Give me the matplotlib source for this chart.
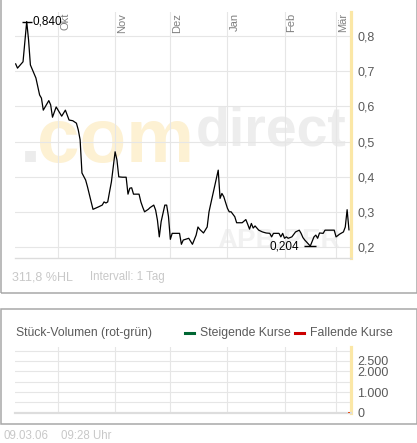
import matplotlib
matplotlib.use('Agg')
import matplotlib.pyplot as plt
import matplotlib.dates as mdates
import matplotlib.transforms as mtransforms
from matplotlib.patches import Rectangle
import numpy as np
import pandas as pd

plt.rcParams['font.family'] = ['Liberation Sans', 'DejaVu Sans']

W, H = 417, 443
DPI = 100

# price history, days counted from 1 Oct 2005
START = pd.Timestamp('2005-10-01')
DAYS = [-23, -22, -19, -17, -16, -15, -12, -10, -9, -8, -5, -4, -3, -1, 2, 4,
        6, 8, 10, 11, 12, 13, 15, 16, 18, 19, 22, 24, 25, 26, 27, 28, 29, 31,
        32, 33, 35, 37, 38, 39, 40, 41, 44, 45, 46, 47, 49, 50, 52, 53, 54, 55,
        56, 58, 59, 60, 61, 62, 66, 67, 68, 71, 73, 75, 76, 77, 79, 81, 82, 83,
        85, 87, 88, 89, 90, 92, 93, 94, 96, 97, 100, 102, 103, 104, 105, 106,
        107, 109, 111, 113, 115, 116, 117, 120, 121, 122, 123, 124, 125, 127,
        129, 131, 132, 133, 134, 137, 139, 140, 141, 142, 144, 145, 148, 150,
        151, 153, 155, 156, 157, 158]
PRICE = [0.720, 0.708, 0.726, 0.840, 0.788, 0.717, 0.680, 0.632, 0.623, 0.589,
         0.616, 0.604, 0.569, 0.598, 0.572, 0.589, 0.561, 0.559, 0.552, 0.533,
         0.505, 0.411, 0.391, 0.372, 0.329, 0.308, 0.315, 0.320, 0.329, 0.326,
         0.329, 0.358, 0.386, 0.471, 0.448, 0.400, 0.399, 0.399, 0.351, 0.368,
         0.369, 0.351, 0.351, 0.329, 0.314, 0.301, 0.308, 0.313, 0.320, 0.306,
         0.277, 0.230, 0.273, 0.320, 0.320, 0.287, 0.223, 0.240, 0.240, 0.209,
         0.221, 0.226, 0.209, 0.235, 0.258, 0.251, 0.241, 0.258, 0.301, 0.325,
         0.372, 0.419, 0.339, 0.353, 0.344, 0.311, 0.301, 0.301, 0.287, 0.270,
         0.270, 0.279, 0.266, 0.252, 0.268, 0.255, 0.261, 0.249, 0.244, 0.241,
         0.240, 0.230, 0.240, 0.240, 0.230, 0.240, 0.226, 0.230, 0.226, 0.230,
         0.244, 0.249, 0.240, 0.228, 0.221, 0.204, 0.230, 0.235, 0.226, 0.241,
         0.240, 0.249, 0.249, 0.249, 0.230, 0.238, 0.244, 0.258, 0.307, 0.250]

MONTHS = ['Okt', 'Nov', 'Dez', 'Jan', 'Feb', 'Mär']
MONTH_STARTS = ['2005-10-01', '2005-11-01', '2005-12-01', '2006-01-01',
                '2006-02-01', '2006-03-01']
PRICE_TICKS = [0.2, 0.3, 0.4, 0.5, 0.6, 0.7, 0.8]

VOL_TICKS = [0, 500, 1000, 1500, 2000, 2500, 3000]
VOL_LABELS = ['0', '', '1.000', '', '2.000', '2.500', '']
VOL_DAYS = [158]
VOL_VALUES = [50]

GRID = '#E6E6E6'
YELLOW = '#FBE7A6'
TXT = '#5A5A5A'
FAINT = '#C8C8C8'


def fbox(l, t, r, b):
    return [l / W, 1 - b / H, (r - l) / W, (b - t) / H]


def fx(x):
    return x / W


def fy(y):
    return 1 - y / H


x = mdates.date2num(START + pd.to_timedelta(DAYS, unit='D'))
price = np.array(PRICE)
months = mdates.date2num(pd.to_datetime(MONTH_STARTS))
x0 = mdates.date2num(START + pd.Timedelta(days=-23.36))
x1 = mdates.date2num(START + pd.Timedelta(days=159.0))

fig = plt.figure(figsize=(W / DPI, H / DPI), dpi=DPI)

# panel frames
fig.patches.append(Rectangle((fx(0.7), fy(293.3)), fx(415.8), fy(-5) - fy(293.3),
                             transform=fig.transFigure, fill=False,
                             edgecolor='#A8A8A8', lw=1.1))
fig.patches.append(Rectangle((fx(0.7), fy(424)), fx(415.8), fy(309.3) - fy(424),
                             transform=fig.transFigure, fill=False,
                             edgecolor='#A8A8A8', lw=1.1))

# watermark
fig.text(fx(20), fy(162), '.', fontsize=55, fontweight='bold', color='#ECECEC',
         va='baseline', zorder=-1)
fig.text(fx(37), fy(162), 'com', fontsize=55, fontweight='bold', color='#FDF1D3',
         va='baseline', zorder=-1)
fig.text(fx(347), fy(146), 'direct', fontsize=40, fontweight='bold',
         color='#EDEDED', va='baseline', ha='right', zorder=-1)
fig.text(fx(217), fy(248), 'APB.PER', fontsize=20, fontweight='bold',
         color='#F1F1F1', va='baseline', zorder=-1)

# price panel
ax = fig.add_axes(fbox(15, 12, 350.8, 257.7))
ax.set_facecolor('none')
ax.plot(x, price, color='black', lw=0.9, zorder=3)
ax.set_xlim(x0, x1)
ax.set_ylim(0.171, 0.867)
ax.set_xticks(months)
ax.set_yticks(PRICE_TICKS)
ax.set_yticklabels([f'{v:.1f}'.replace('.', ',') for v in PRICE_TICKS])
ax.yaxis.tick_right()
ax.tick_params(length=0, labelbottom=False, labelsize=9, labelcolor=TXT, pad=4.5)
ax.grid(True, color=GRID, lw=0.8, zorder=1)
for s in ['left', 'top', 'right']:
    ax.spines[s].set_visible(False)
ax.spines['bottom'].set_color('#DCDCDC')
ax.spines['bottom'].set_linewidth(1.0)
ax.axvline(x1, color=YELLOW, lw=2.3, clip_on=False, zorder=2)

lab_tr = mtransforms.blended_transform_factory(ax.transData, ax.transAxes) + \
    mtransforms.ScaledTranslation(2 / DPI, -1 / DPI, fig.dpi_scale_trans)
for m, name in zip(months, MONTHS):
    ax.text(m, 1.0, name, rotation=90, ha='left', va='top', fontsize=8,
            color='#808080', transform=lab_tr)

# high / low markers
i_hi = int(np.argmax(price))
i_lo = int(np.argmin(price))
ax.plot(x[i_hi], price[i_hi], marker='_', ms=7, mew=1, color='black', zorder=4)
ax.plot(x[i_lo], price[i_lo], marker='_', ms=8, mew=1, color='black', zorder=4)
ax.annotate(f'{price[i_hi]:.3f}'.replace('.', ','), (x[i_hi], price[i_hi]),
            xytext=(4.5, 0), textcoords='offset points', ha='left', va='center',
            fontsize=8.5, color='black')
ax.annotate(f'{price[i_lo]:.3f}'.replace('.', ','), (x[i_lo], price[i_lo]),
            xytext=(-8, 0), textcoords='offset points', ha='right', va='center',
            fontsize=8.5, color='black')

fig.text(fx(12), fy(277), '311,8 %HL', fontsize=9, color=FAINT, va='center')
fig.text(fx(90), fy(277), 'Intervall: 1 Tag', fontsize=8.3, color=FAINT, va='center')

# volume panel
fig.text(fx(16), fy(333), 'Stück-Volumen (rot-grün)', fontsize=8.7, color=TXT,
         va='center')
fig.lines.append(plt.Line2D([fx(185), fx(194)], [fy(333), fy(333)],
                            transform=fig.transFigure, color='#006633', lw=2.2))
fig.text(fx(200), fy(333), 'Steigende Kurse', fontsize=8.8, color=TXT, va='center')
fig.lines.append(plt.Line2D([fx(295), fx(304)], [fy(333), fy(333)],
                            transform=fig.transFigure, color='#CC0000', lw=2.2))
fig.text(fx(310), fy(333), 'Fallende Kurse', fontsize=8.8, color=TXT, va='center')

ax2 = fig.add_axes(fbox(15, 346.7, 350.8, 412.7))
ax2.set_facecolor('none')
vx = mdates.date2num(START + pd.to_timedelta(VOL_DAYS, unit='D'))
ax2.bar(vx, VOL_VALUES, width=1.0, color='#E8501A', zorder=3)
ax2.set_xlim(x0, x1)
ax2.set_ylim(0, 3190)
ax2.set_xticks(months)
ax2.set_yticks(VOL_TICKS)
ax2.set_yticklabels(VOL_LABELS)
ax2.yaxis.tick_right()
ax2.tick_params(length=0, labelbottom=False, labelsize=9, labelcolor=TXT, pad=4.5)
ax2.grid(True, color=GRID, lw=0.8, zorder=1)
for s in ['left', 'top', 'right']:
    ax2.spines[s].set_visible(False)
ax2.spines['bottom'].set_color('#DDDDDD')
ax2.spines['bottom'].set_linewidth(1.6)
ax2.axvline(x1, color=YELLOW, lw=2.3, clip_on=False, zorder=2)

fig.text(fx(3), fy(436), '09.03.06', fontsize=8.3, color=FAINT, va='center')
fig.text(fx(61), fy(436), '09:28 Uhr', fontsize=8.3, color=FAINT, va='center')

fig.savefig('out.png', dpi=DPI)
